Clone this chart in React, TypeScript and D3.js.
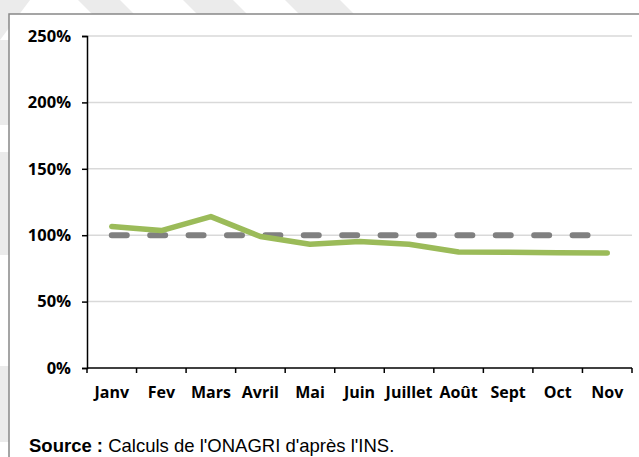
import React, { useEffect, useRef } from 'react';
import * as d3 from 'd3';

const months = ['Janv', 'Fev', 'Mars', 'Avril', 'Mai', 'Juin', 'Juillet', 'Août', 'Sept', 'Oct', 'Nov'];
const ratio = [106.5, 103.5, 114, 99, 93.2, 95.3, 93.2, 87.3, 87.2, 86.8, 86.6];
const reference = [100, 100, 100, 100, 100, 100, 100, 100, 100, 100, 100];
const yTicks = [0, 50, 100, 150, 200, 250];

const App = () => {
  const svgRef = useRef<SVGSVGElement>(null);

  useEffect(() => {
    const svg = d3.select(svgRef.current);
    svg.selectAll('*').remove();

    const width = 639;
    const height = 457;
    const margin = { top: 36, right: 7, bottom: 89, left: 87 };

    svg.attr('width', width).attr('height', height);

    // faint watermark bands behind the frame
    const bands = [
      [[0, 0], [30, 0], [0, 40]],
      [[78, 0], [120, 0], [150, 30], [108, 30]],
      [[183, 0], [233, 0], [263, 30], [213, 30]],
      [[285, 0], [340, 0], [370, 30], [315, 30]],
      [[0, 40], [9, 40], [9, 125], [0, 125]],
      [[0, 152], [9, 152], [9, 255], [0, 255]],
      [[0, 366], [9, 366], [9, 442], [0, 442]],
    ];
    svg.append('g')
      .selectAll('path')
      .data(bands)
      .enter()
      .append('path')
      .attr('d', d => 'M' + d.map(p => p.join(',')).join('L') + 'Z')
      .style('fill', '#ebebeb');

    // frame
    svg.append('rect')
      .attr('x', 9)
      .attr('y', 14)
      .attr('width', width + 20)
      .attr('height', height + 20)
      .style('fill', '#fff')
      .style('stroke', '#888')
      .style('stroke-width', 1.5);

    const x = d3.scaleBand()
      .domain(months)
      .range([margin.left, width - margin.right]);

    const y = d3.scaleLinear()
      .domain([0, 250])
      .range([height - margin.bottom, margin.top]);

    const cx = (m: string) => x(m)! + x.bandwidth() / 2;

    // gridlines
    svg.append('g')
      .selectAll('line')
      .data(yTicks.filter(t => t > 0))
      .enter()
      .append('line')
      .attr('x1', margin.left)
      .attr('x2', width - margin.right)
      .attr('y1', d => y(d))
      .attr('y2', d => y(d))
      .style('stroke', '#d9d9d9')
      .style('stroke-width', 1.5);

    const font = "'Open Sans', sans-serif";

    // y axis
    const yAxis = svg.append('g')
      .attr('transform', `translate(${margin.left},0)`)
      .call(d3.axisLeft(y).tickValues(yTicks).tickSize(5).tickPadding(11).tickFormat(d => `${d}%`));
    yAxis.select('.domain').attr('stroke', '#000').attr('stroke-width', 1.5);
    yAxis.selectAll('.tick line').attr('stroke', '#000').attr('stroke-width', 1.5);
    yAxis.selectAll('text')
      .style('font-family', font)
      .style('font-weight', 700)
      .style('font-size', '16.5px')
      .style('fill', '#000');

    // x axis with ticks on band boundaries
    const xAxis = svg.append('g')
      .attr('transform', `translate(0,${y(0)})`);
    xAxis.append('line')
      .attr('x1', margin.left)
      .attr('x2', width - margin.right)
      .style('stroke', '#000')
      .style('stroke-width', 1.5);
    xAxis.selectAll('.xt')
      .data(months.concat(['']))
      .enter()
      .append('line')
      .attr('x1', (d, i) => i < months.length ? x(d)! : width - margin.right)
      .attr('x2', (d, i) => i < months.length ? x(d)! : width - margin.right)
      .attr('y1', 0)
      .attr('y2', 5)
      .style('stroke', '#000')
      .style('stroke-width', 1.5);
    xAxis.selectAll('.xl')
      .data(months)
      .enter()
      .append('text')
      .attr('x', d => cx(d))
      .attr('y', 30)
      .attr('text-anchor', 'middle')
      .style('font-family', font)
      .style('font-weight', 700)
      .style('font-size', '16px')
      .style('fill', '#000')
      .text(d => d);

    // reference line (100%)
    const line = d3.line<number>()
      .x((d, i) => cx(months[i]))
      .y(d => y(d));

    svg.append('path')
      .datum(reference)
      .attr('d', line)
      .style('fill', 'none')
      .style('stroke', '#808080')
      .style('stroke-width', 6)
      .style('stroke-linecap', 'round')
      .style('stroke-dasharray', '15 23.4');

    svg.append('path')
      .datum(ratio)
      .attr('d', line)
      .style('fill', 'none')
      .style('stroke', '#9bbb59')
      .style('stroke-width', 5.5)
      .style('stroke-linecap', 'round')
      .style('stroke-linejoin', 'round');

    // source
    const src = svg.append('text')
      .attr('x', 29)
      .attr('y', 452)
      .style('font-family', "'Liberation Sans', Arial, sans-serif")
      .style('font-size', '18.5px')
      .style('fill', '#000');
    src.append('tspan').style('font-weight', 700).text('Source :');
    src.append('tspan').text(" Calculs de l'ONAGRI d'après l'INS.");
  }, []);

  return (
    <svg ref={svgRef} style={{ position: 'absolute', left: 0, top: 0 }}></svg>
  );
};

export default App;
